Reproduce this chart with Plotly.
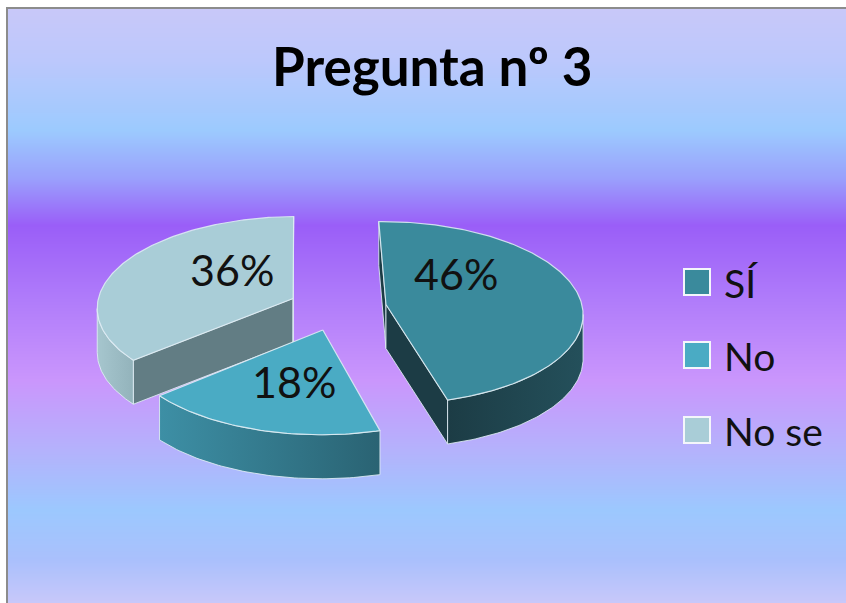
import math
import plotly.graph_objects as go

# ---- data -------------------------------------------------------------
labels = ["SÍ", "No", "No se"]
values = [46, 18, 36]
pct_text = ["46%", "18%", "36%"]

# ---- styling -----------------------------------------------------------
top_colors = ["#3a8a9c", "#4aabc4", "#a9cdd7"]
side_left_colors = ["#1c3c45", "#3d8fa5", "#a6c6ce"]
side_right_colors = ["#24505b", "#2a6373", "#93b3bb"]
cut_colors = ["#1c3c45", "#2b6575", "#627d84"]
legend_colors = ["#3a8a9c", "#4aabc4", "#a9cdd7"]
edge_color = "rgba(225,238,244,0.85)"

W, H = 846, 603

# background gradient (pixel row -> colour)
bg_stops = [
    (0, "#cac8f8"), (60, "#bcc8fc"), (130, "#9ccafe"), (178, "#9aa0fc"),
    (225, "#9a5ef8"), (300, "#b07cfa"), (380, "#ca96fc"), (450, "#b4b2fc"),
    (510, "#9cc8fe"), (560, "#aac0fc"), (603, "#c8c8fa"),
]

# ---- 3D pie view -------------------------------------------------------
CX, CY = 337.5, 307.7   # screen position of the pie centre
KX, KY = 196.5, 91.0    # px per radius across / into the depth
PERSP = 11.0            # perspective distance (in radii)
THICK_PX = 44.0         # slice thickness on screen
EXPLODE = 0.25          # radial explode (in radii)
ROTATE = math.radians(-1.0)  # angle of the first slice edge


def project(X, Z, Y):
    g = PERSP / (PERSP - Z)
    return CX + KX * X * g, CY + KY * Z * g - THICK_PX * Y


def rim(theta, ox, oz):
    return ox + math.sin(theta), oz - math.cos(theta)


def area(pts):
    s = 0.0
    for k in range(len(pts)):
        x1, y1 = pts[k]
        x2, y2 = pts[(k + 1) % len(pts)]
        s += x1 * y2 - x2 * y1
    return s / 2


total = float(sum(values))
slices = []
start = ROTATE
for i, v in enumerate(values):
    span = 2 * math.pi * v / total
    t1, t2 = start, start + span
    mid = (t1 + t2) / 2
    ox, oz = EXPLODE * math.sin(mid), -EXPLODE * math.cos(mid)
    slices.append(dict(i=i, t1=t1, t2=t2, mid=mid, ox=ox, oz=oz))
    start = t2

fig = go.Figure()

# gradient background
rows = list(range(0, H + 1, 3))
fig.add_trace(go.Heatmap(
    x=[0, W], y=rows, z=[[r, r] for r in rows], zmin=0, zmax=H,
    colorscale=[[p / H, c] for p, c in bg_stops],
    zsmooth="best", showscale=False, hoverinfo="skip",
))


def poly(points, **kw):
    xs = [p[0] for p in points] + [points[0][0]]
    ys = [p[1] for p in points] + [points[0][1]]
    fig.add_trace(go.Scatter(x=xs, y=ys, mode="lines", fill="toself",
                             hoverinfo="skip", **kw))


# draw far slices first
for s in sorted(slices, key=lambda d: d["oz"]):
    i, t1, t2, ox, oz = s["i"], s["t1"], s["t2"], s["ox"], s["oz"]
    n = max(8, int((t2 - t1) / math.radians(1.0)))
    thetas = [t1 + (t2 - t1) * k / n for k in range(n + 1)]

    # radial cut faces (screen-space back-face test)
    for t, sign in ((t1, -1), (t2, 1)):
        rx, rz = rim(t, ox, oz)
        pts = [project(ox, oz, 0), project(rx, rz, 0),
               project(rx, rz, -1), project(ox, oz, -1)]
        if sign * area(pts) > 0:
            poly(pts, fillcolor=cut_colors[i],
                 line=dict(color=edge_color, width=1))

    # outer curved wall, visible runs only
    runs, cur = [], []
    for a, b in zip(thetas[:-1], thetas[1:]):
        quad = [project(*rim(a, ox, oz), 0), project(*rim(b, ox, oz), 0),
                project(*rim(b, ox, oz), -1), project(*rim(a, ox, oz), -1)]
        if area(quad) < 0:
            if not cur:
                cur = [a]
            cur.append(b)
        elif cur:
            runs.append(cur)
            cur = []
    if cur:
        runs.append(cur)
    for run in runs:
        top = [project(*rim(t, ox, oz), 0) for t in run]
        bot = [project(*rim(t, ox, oz), -1) for t in reversed(run)]
        poly(top + bot, fillcolor=side_left_colors[i],
             fillgradient=dict(type="horizontal",
                               colorscale=[[0, side_left_colors[i]],
                                           [1, side_right_colors[i]]]),
             line=dict(color=edge_color, width=1))

    # top face
    pts = [project(ox, oz, 0)] + [project(*rim(t, ox, oz), 0) for t in thetas]
    poly(pts, fillcolor=top_colors[i], line=dict(color=edge_color, width=1.2))

# percentage labels on the top faces
label_shift = [-33, -3, 19]       # degrees relative to the slice middle
label_radius = [0.50, 0.55, 0.45]
for s in slices:
    i = s["i"]
    a = s["mid"] + math.radians(label_shift[i])
    lx, ly = project(s["ox"] + label_radius[i] * math.sin(a),
                     s["oz"] - label_radius[i] * math.cos(a), 0)
    fig.add_annotation(x=lx, y=ly - 2, text=pct_text[i], showarrow=False,
                       font=dict(family="Lato", size=43, color="#111111"),
                       xanchor="center", yanchor="middle")

# legend
leg_y = [282, 355, 430]
for i, lab in enumerate(labels):
    fig.add_shape(type="rect", x0=684, x1=710, y0=leg_y[i] - 13, y1=leg_y[i] + 13,
                  fillcolor=legend_colors[i], line=dict(color="#f4f6fb", width=2))
    fig.add_annotation(x=722, y=leg_y[i] + 1, text=lab, showarrow=False,
                       xanchor="left", yanchor="middle",
                       font=dict(family="Lato", size=39, color="#111111"))

# title
fig.add_annotation(x=432, y=65, text="<b>Pregunta nº 3</b>", showarrow=False,
                   xanchor="center", yanchor="middle",
                   font=dict(family="Lato", size=53, color="#000000"))

# outer frame
fig.add_shape(type="rect", x0=0, x1=6, y0=0, y1=H, fillcolor="white",
              line=dict(width=0), layer="above")
fig.add_shape(type="rect", x0=0, x1=W, y0=0, y1=7, fillcolor="white",
              line=dict(width=0), layer="above")
fig.add_shape(type="line", x0=7, x1=7, y0=7, y1=H, line=dict(color="#8c8c8c", width=2))
fig.add_shape(type="line", x0=6, x1=W, y0=8, y1=8, line=dict(color="#8c8c8c", width=2))

fig.update_layout(
    width=W, height=H, margin=dict(l=0, r=0, t=0, b=0),
    paper_bgcolor="white", plot_bgcolor="white", showlegend=False,
    xaxis=dict(range=[0, W], visible=False, fixedrange=True),
    yaxis=dict(range=[H, 0], visible=False, fixedrange=True),
)

fig.write_html("out.html")
